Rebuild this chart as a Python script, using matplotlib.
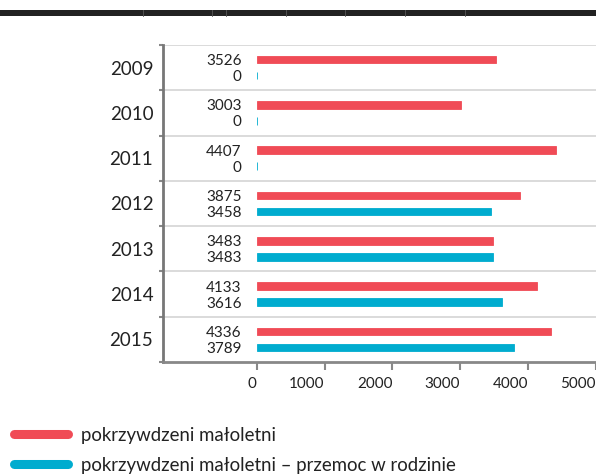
import matplotlib.pyplot as plt
from matplotlib.lines import Line2D
from matplotlib.patches import Rectangle

years = ["2009", "2010", "2011", "2012", "2013", "2014", "2015"]
minors = [3526, 3003, 4407, 3875, 3483, 4133, 4336]
family_violence = [0, 0, 0, 3458, 3483, 3616, 3789]
legend_labels = ["pokrzywdzeni małoletni",
                 "pokrzywdzeni małoletni – przemoc w rodzinie"]
x_ticks = [0, 1000, 2000, 3000, 4000, 5000]

red = "#f04b56"
cyan = "#00accf"
text_col = "#222222"

plt.rcParams["font.family"] = ["Lato", "DejaVu Sans"]

fig = plt.figure(figsize=(5.96, 4.75), dpi=100)
ax = fig.add_axes([163 / 596, 1 - 362 / 475, 1 - 163 / 596, 317 / 475])

n = len(years)
off = 8 / 45.3
h = 7.5 / 45.3
pos = list(range(n))

ax.barh([p - off for p in pos], minors, height=h, color=red,
        edgecolor=red, linewidth=0.6)
ax.barh([p + off for p in pos], family_violence, height=h, color=cyan,
        edgecolor=cyan, linewidth=0.6)

for p, a, b in zip(pos, minors, family_violence):
    ax.annotate(str(a), (0, p - off), xytext=(-11, 0), textcoords="offset points",
                ha="right", va="center_baseline", fontsize=11, color=text_col)
    ax.annotate(str(b), (0, p + off), xytext=(-11, 0), textcoords="offset points",
                ha="right", va="center_baseline", fontsize=11, color=text_col)

ax.set_ylim(n - 0.5, -0.5)
ax.set_xlim(-1382, 5000)

# row separators
for b in range(n):
    ax.axhline(b - 0.5, color="#d4d4d4", lw=1.2, zorder=0)

ax.set_yticks([b - 0.5 for b in range(n + 1)])
ax.set_yticklabels([])
ax.set_yticks(pos, minor=True)
ax.set_yticklabels(years, minor=True, fontsize=13.5, color=text_col)
ax.tick_params(axis="y", which="major", length=3, width=1.5, color="#888888")
ax.tick_params(axis="y", which="minor", length=0, pad=7)

ax.set_xticks(x_ticks)
ax.set_xticklabels([str(t) for t in x_ticks], fontsize=11, color=text_col)
for lab in ax.get_xticklabels():
    lab.set_horizontalalignment("right")
ax.tick_params(axis="x", length=6, width=1.5, color="#888888", pad=5)

for s in ["top", "right"]:
    ax.spines[s].set_visible(False)
ax.spines["left"].set_color("#777777")
ax.spines["left"].set_linewidth(2)
ax.spines["bottom"].set_color("#888888")
ax.spines["bottom"].set_linewidth(2)

# top dark band
fig.add_artist(Rectangle((0, 1 - 16 / 475), 1, 6 / 475, transform=fig.transFigure,
                         color="#222222", lw=0))
for xp in [143, 212, 226, 286, 345, 405, 465]:
    fig.add_artist(Line2D([xp / 596, xp / 596], [1 - 16 / 475, 1 - 10 / 475],
                          transform=fig.transFigure, color="#555555", lw=0.6))

# legend
for i, (lab, col) in enumerate(zip(legend_labels, [red, cyan])):
    yy = 1 - (434 + 30 * i) / 475
    fig.add_artist(Line2D([14 / 596, 68 / 596], [yy, yy], transform=fig.transFigure,
                          color=col, lw=6.5, solid_capstyle="round"))
    fig.text(81 / 596, yy, lab, fontsize=13.4, color=text_col, va="center_baseline")

fig.savefig("out.png", dpi=100)
